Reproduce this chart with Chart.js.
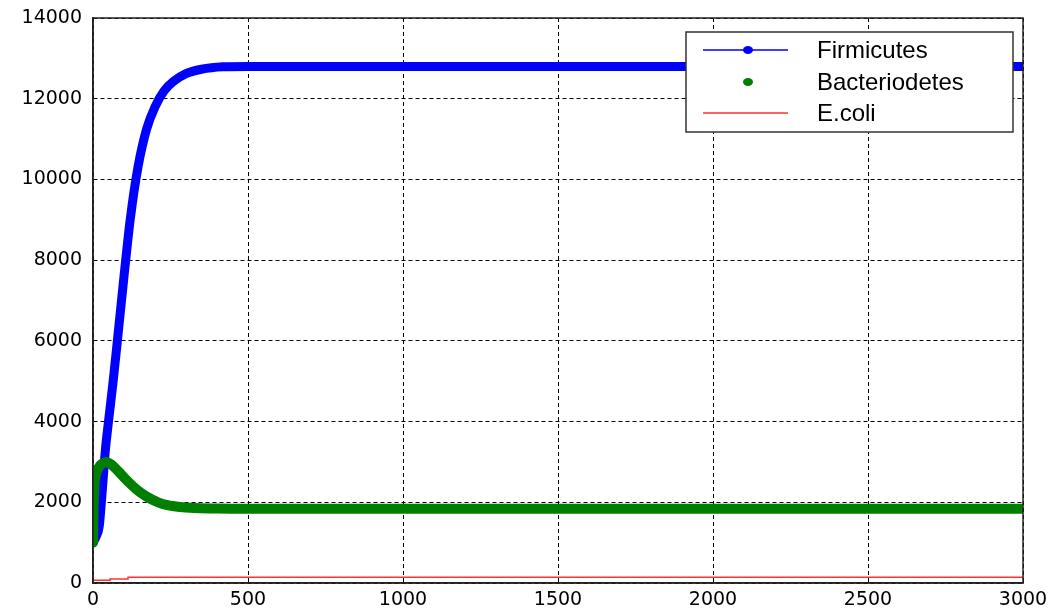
<!DOCTYPE html>
<html>
<head>
<meta charset="utf-8">
<script src="https://cdn.jsdelivr.net/npm/chart.js@4"></script>
<style>
  body { margin: 0; background: #fff; }
  #wrap { width: 1057px; height: 613px; position: relative; }
</style>
</head>
<body>
<div id="wrap"><canvas id="popChart"></canvas></div>
<script>
// --- data ---
const firmT = [0, 10, 20, 30, 40, 50, 65, 80, 100, 120, 145, 173, 200, 230, 260, 300, 350, 420, 500, 3000];
const firmicutes = [1000, 1150, 1400, 2300, 3300, 4000, 5000, 6100, 7600, 9000, 10300, 11250, 11800, 12200, 12430, 12620, 12730, 12790, 12800, 12800];

const bactT = [0, 2, 5, 10, 20, 30, 42, 60, 80, 108, 140, 173, 210, 240, 280, 330, 400, 500, 3000];
const bacteroidetes = [1000, 1900, 2450, 2700, 2880, 2960, 3000, 2930, 2780, 2550, 2320, 2140, 2000, 1930, 1885, 1860, 1845, 1840, 1840];

const ecoliT = [0, 55, 113, 242, 3000];
const ecoli = [30, 70, 100, 140, 140];

const xTicks = [0, 500, 1000, 1500, 2000, 2500, 3000];
const yTicks = [0, 2000, 4000, 6000, 8000, 10000, 12000, 14000];

const pts = (xs, ys) => xs.map((x, i) => ({ x: x, y: ys[i] }));

// legend box drawn inside the plot like the original figure
const boxLegend = {
    id: 'boxLegend',
    afterDraw(chart) {
        const ctx = chart.ctx;
        const area = chart.chartArea;
        // frame around the plot
        ctx.save();
        ctx.strokeStyle = '#222';
        ctx.lineWidth = 1.5;
        ctx.strokeRect(area.left, area.top, area.right - area.left, area.bottom - area.top);

        const x0 = 686, y0 = 32, w = 327, h = 100;
        ctx.fillStyle = '#fff';
        ctx.fillRect(x0, y0, w, h);
        ctx.strokeStyle = '#333';
        ctx.lineWidth = 1.5;
        ctx.strokeRect(x0, y0, w, h);

        const rows = [50, 82, 113];
        ctx.font = '24px "Liberation Sans", Arial, sans-serif';
        ctx.textBaseline = 'middle';
        chart.data.datasets.forEach((ds, i) => {
            const y = rows[i];
            ctx.strokeStyle = ds.borderColor;
            ctx.fillStyle = ds.borderColor;
            if (ds.legendLine) {
                ctx.lineWidth = 1.5;
                ctx.beginPath();
                ctx.moveTo(703, y);
                ctx.lineTo(788, y);
                ctx.stroke();
            }
            if (ds.legendDot) {
                ctx.beginPath();
                ctx.ellipse(748, y, 5, 4, 0, 0, Math.PI * 2);
                ctx.fill();
            }
            ctx.fillStyle = '#000';
            ctx.fillText(ds.label, 817, y + 1);
        });
        ctx.restore();
    }
};

const ctx = document.getElementById('popChart').getContext('2d');
new Chart(ctx, {
    type: 'line',
    data: {
        datasets: [
            {
                label: 'Firmicutes',
                data: pts(firmT, firmicutes),
                borderColor: '#0000ff',
                borderWidth: 9,
                borderCapStyle: 'round',
                borderJoinStyle: 'round',
                pointRadius: 0,
                cubicInterpolationMode: 'monotone',
                order: 1,
                legendLine: true,
                legendDot: true
            },
            {
                label: 'Bacteriodetes',
                data: pts(bactT, bacteroidetes),
                borderColor: '#007f00',
                borderWidth: 10,
                borderCapStyle: 'round',
                borderJoinStyle: 'round',
                pointRadius: 0,
                cubicInterpolationMode: 'monotone',
                order: 0,
                legendLine: false,
                legendDot: true
            },
            {
                label: 'E.coli',
                data: pts(ecoliT, ecoli),
                borderColor: '#ff3030',
                borderWidth: 1.5,
                pointRadius: 0,
                stepped: 'after',
                order: 0,
                legendLine: true,
                legendDot: false
            }
        ]
    },
    options: {
        responsive: true,
        maintainAspectRatio: false,
        animation: false,
        layout: { padding: { left: 0, right: 34, top: 18, bottom: 0 } },
        plugins: {
            legend: { display: false },
            tooltip: { enabled: false }
        },
        scales: {
            x: {
                type: 'linear',
                min: 0,
                max: 3000,
                afterBuildTicks: (scale) => { scale.ticks = xTicks.map(v => ({ value: v })); },
                afterFit: (scale) => { scale.height = 30; scale.paddingRight = 0; scale.paddingLeft = 0; },
                ticks: {
                    color: '#000',
                    padding: 6,
                    callback: (v) => String(v),
                    font: { family: '"DejaVu Sans", sans-serif', size: 19 }
                },
                grid: { color: '#000', lineWidth: 1, drawTicks: false },
                border: { display: true, color: '#222', width: 1.5, dash: [4, 3] }
            },
            y: {
                min: 0,
                max: 14000,
                afterBuildTicks: (scale) => { scale.ticks = yTicks.map(v => ({ value: v })); },
                afterFit: (scale) => { scale.width = 93; scale.paddingTop = 0; scale.paddingBottom = 0; },
                ticks: {
                    color: '#000',
                    padding: 11,
                    callback: (v) => String(v),
                    font: { family: '"DejaVu Sans", sans-serif', size: 19 }
                },
                grid: { color: '#000', lineWidth: 1, drawTicks: false },
                border: { display: true, color: '#222', width: 1.5, dash: [4, 3] }
            }
        }
    },
    plugins: [boxLegend]
});
</script>
</body>
</html>
